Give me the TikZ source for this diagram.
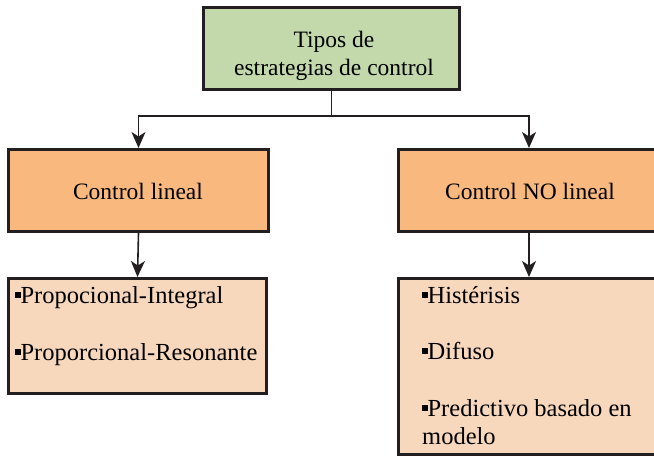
\documentclass[tikz,border=0pt]{standalone}
\usepackage{fontspec}
\setmainfont{Liberation Serif}
\usetikzlibrary{arrows.meta}
\definecolor{bordc}{HTML}{231F20}
\definecolor{greenf}{HTML}{C3D9AB}
\definecolor{orangef}{HTML}{F9B97E}
\definecolor{peachf}{HTML}{F7D8BD}
\newcommand\sqbul{\rule[0.2em]{0.22em}{0.26em}}
\begin{document}
\begin{tikzpicture}[x=1pt,y=-1pt,
  box/.style={draw=bordc, line width=3pt, inner sep=0pt},
  txt/.style={inner sep=0pt, font=\fontsize{23.5}{28}\selectfont, text=black},
  ltxt/.style={inner sep=0pt, font=\fontsize{24.5}{28}\selectfont, text=black, anchor=base west},
  conn/.style={draw=bordc, line width=1.6pt},
  arr/.style={conn, -{Stealth[length=16pt,width=14pt,inset=4.5pt]}}]
\path[use as bounding box, clip] (0,0) rectangle (654,459);
% boxes
\node[box, fill=greenf, minimum width=256pt, minimum height=82pt] (top) at (331.5,48.5) {};
\node[box, fill=orangef, minimum width=260pt, minimum height=82pt] (lin) at (138.5,190.5) {};
\node[box, fill=orangef, minimum width=261pt, minimum height=82pt] (nolin) at (529,190.5) {};
\node[box, fill=peachf, minimum width=258pt, minimum height=115pt] (plist) at (137.5,336) {};
\node[box, fill=peachf, minimum width=261pt, minimum height=176pt] (nlist) at (529,366.5) {};
% texts
\node[txt, anchor=base] (t1) at (334,47) {Tipos de};
\node[txt, anchor=base] (t2) at (334,75) {estrategias de control};
\node[txt, anchor=base] (l1) at (138,199) {Control lineal};
\node[txt, anchor=base] (n1) at (530,199) {Control NO lineal};
\node[ltxt] (p1) at (15,303) {\sqbul Propocional-Integral};
\node[ltxt] (p2) at (15,360) {\sqbul Proporcional-Resonante};
\node[ltxt] (q1) at (422,303) {\sqbul Histérisis};
\node[ltxt] (q2) at (422,359) {\sqbul Difuso};
\node[ltxt] (q3) at (422,416) {\sqbul Predictivo basado en};
\node[ltxt] (q4) at (422,444) {modelo};
% connectors
\coordinate (j) at (top.south |- 0,116);
\draw[conn] (top.south) -- (j);
\draw[arr] (j) -| (lin.north);
\draw[arr] (j) -| (nolin.north);
\draw[arr] (lin.south) -- (plist.north);
\draw[arr] (nolin.south) -- (nlist.north);
\end{tikzpicture}
\end{document}
